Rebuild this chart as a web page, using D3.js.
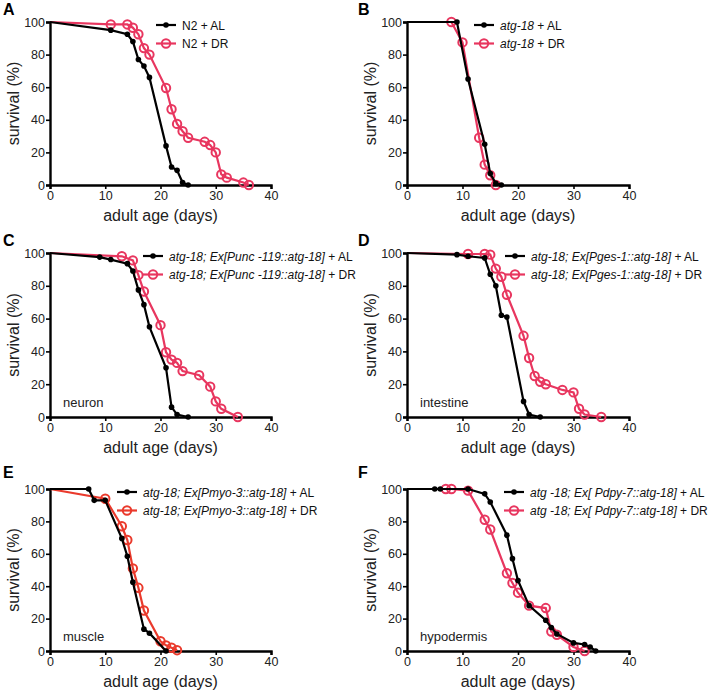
<!DOCTYPE html>
<html><head><meta charset="utf-8">
<script src="https://cdn.jsdelivr.net/npm/d3@7"></script>
<style>
body{margin:0;background:#fff;}
svg{display:block;font-family:Arial,"Liberation Sans",Helvetica,sans-serif;}
</style></head>
<body><svg id="chart" width="709" height="694"></svg>
<script>
// ---------- data ----------
const xTicks = [0, 10, 20, 30, 40];
const yTicks = [0, 20, 40, 60, 80, 100];

const A_AL_days = [0, 11, 14, 15, 16, 17, 18, 21, 22, 23, 24, 25];
const A_AL_surv = [100, 95, 92.5, 88, 77, 73, 66, 24, 11, 9, 1.5, 0];
const A_DR_days = [0, 11, 14, 15, 16, 17, 18, 21, 22, 23, 24, 25, 28, 29, 30, 31, 32, 35, 36];
const A_DR_surv = [100, 98.5, 98.5, 96.5, 92.5, 84, 80, 59.5, 46.5, 37.5, 33, 29, 26.5, 24.5, 20, 6.5, 4.5, 1.5, 0];

const B_AL_days = [0, 9, 11, 14, 15, 16, 17];
const B_AL_surv = [100, 100, 65, 25, 7, 1, 0];
const B_DR_days = [0, 8, 10, 13, 14, 15, 16];
const B_DR_surv = [100, 100, 87.5, 29, 12.5, 6, 0];

const C_AL_days = [0, 9, 11, 14, 15, 16, 17, 18, 21, 22, 23, 25];
const C_AL_surv = [100, 97.5, 96, 93.5, 89, 77.5, 68.5, 55, 30, 6, 1.5, 0];
const C_DR_days = [0, 13, 15, 16, 17, 20, 21, 22, 23, 24, 27, 29, 30, 31, 34];
const C_DR_surv = [100, 98, 95.5, 86.5, 76.5, 56, 39.5, 35, 33, 28, 25.5, 18.5, 9.5, 5, 0];

const D_AL_days = [0, 9, 11, 14, 15, 16, 17, 18, 21, 22, 24];
const D_AL_surv = [100, 99, 98, 97, 87, 80, 62, 61, 9.5, 1.5, 0];
const D_DR_days = [0, 11, 14, 15, 16, 17, 18, 21, 22, 23, 24, 25, 28, 30, 31, 32, 35];
const D_DR_surv = [100, 99.4, 99.4, 99, 90.5, 85.5, 74.5, 49.5, 36, 25, 21.5, 20, 16.5, 15, 5, 1.5, 0];

const E_AL_days = [0, 7, 8, 10, 13, 14, 15, 17, 18, 21];
const E_AL_surv = [100, 100, 93, 93, 69.5, 58.5, 42.5, 13.5, 11, 0];
const E_DR_days = [0, 10, 13, 14, 15, 16, 17, 20, 21, 22, 23];
const E_DR_surv = [100, 94, 77, 68.5, 51, 39, 25, 6, 3.5, 2, 0.5];

const F_AL_days = [0, 5, 6, 11, 14, 15, 18, 19, 20, 22, 25, 26, 27, 30, 32, 33, 34];
const F_AL_surv = [100, 100, 100, 100, 97, 92, 71.5, 57, 43.5, 28, 19, 14.5, 10.5, 5, 4, 2.5, 0];
const F_DR_days = [0, 7, 8, 11, 14, 15, 18, 19, 20, 22, 25, 26, 27, 30, 32];
const F_DR_surv = [100, 100, 100, 99, 81, 75, 48, 42, 36, 28, 26.5, 12, 10, 2.5, 0];

const panelLetters = ["A", "B", "C", "D", "E", "F"];
const tissueLabels = ["", "", "neuron", "intestine", "muscle", "hypodermis"];
// legend text parts: [italic part, upright part]
const legendAL = [["", "N2 + AL"], ["atg-18", " + AL"], ["atg-18; Ex[Punc -119::atg-18]", " + AL"],
  ["atg-18; Ex[Pges-1::atg-18]", " + AL"], ["atg-18; Ex[Pmyo-3::atg-18]", " + AL"], ["atg -18; Ex[ Pdpy-7::atg-18]", " + AL"]];
const legendDR = [["", "N2 + DR"], ["atg-18", " + DR"], ["atg-18; Ex[Punc -119::atg-18]", " + DR"],
  ["atg-18; Ex[Pges-1::atg-18]", " + DR"], ["atg-18; Ex[Pmyo-3::atg-18]", " + DR"], ["atg -18; Ex[ Pdpy-7::atg-18]", " + DR"]];

const seriesAL = [[A_AL_days, A_AL_surv], [B_AL_days, B_AL_surv], [C_AL_days, C_AL_surv], [D_AL_days, D_AL_surv], [E_AL_days, E_AL_surv], [F_AL_days, F_AL_surv]];
const seriesDR = [[A_DR_days, A_DR_surv], [B_DR_days, B_DR_surv], [C_DR_days, C_DR_surv], [D_DR_days, D_DR_surv], [E_DR_days, E_DR_surv], [F_DR_days, F_DR_surv]];

// ---------- layout ----------
const colX = [[50, 271], [407, 629]];
const rowY = [[22, 185], [253, 417], [489, 651]];
const pink = "#e8365f";
const orange = "#ea3a2c";
const drColors = [pink, pink, pink, pink, orange, pink];
const legendX = [156, 474, 143, 505, 117, 504];

const svg = d3.select("#chart");

panelLetters.forEach((letter, i) => {
  const col = i % 2, row = Math.floor(i / 2);
  const [x0, x1] = colX[col];
  const [y0, y1] = rowY[row];
  const x = d3.scaleLinear().domain([0, 40]).range([x0, x1]);
  const y = d3.scaleLinear().domain([0, 100]).range([y1, y0]);
  const g = svg.append("g");

  // axes
  const xa = g.append("g").attr("transform", `translate(0,${y1})`)
    .call(d3.axisBottom(x).tickValues(xTicks).tickSize(4).tickPadding(2));
  const ya = g.append("g").attr("transform", `translate(${x0},0)`)
    .call(d3.axisLeft(y).tickValues(yTicks).tickSize(4).tickPadding(1));
  [xa, ya].forEach(a => {
    a.select(".domain").attr("stroke", "#000").attr("stroke-width", 2.4);
    a.selectAll(".tick line").attr("stroke", "#000").attr("stroke-width", 1.6);
    a.selectAll(".tick text").attr("fill", "#222").style("font-size", "12.5px").style("font-family", "Arial, 'Liberation Sans', sans-serif");
  });

  // axis titles
  g.append("text").attr("x", (x0 + x1) / 2).attr("y", y1 + 36)
    .attr("text-anchor", "middle").style("font-size", "16px").attr("fill", "#222").text("adult age (days)");
  g.append("text").attr("transform", `translate(${x0 - 31},${(y0 + y1) / 2}) rotate(-90)`)
    .attr("text-anchor", "middle").style("font-size", "16px").attr("fill", "#222").text("survival (%)");

  // panel letter
  g.append("text").attr("x", col === 0 ? 3 : 358).attr("y", y0 - 7 + (row === 2 ? -4 : 0))
    .style("font-size", "16px").style("font-weight", "bold").text(letter);

  // tissue label
  if (tissueLabels[i]) {
    g.append("text").attr("x", x0 + 13).attr("y", y1 - 10)
      .style("font-size", "13px").attr("fill", "#222").text(tissueLabels[i]);
  }

  const line = d3.line().x(d => x(d[0])).y(d => y(d[1]));
  const al = seriesAL[i][0].map((d, k) => [d, seriesAL[i][1][k]]);
  const dr = seriesDR[i][0].map((d, k) => [d, seriesDR[i][1][k]]);
  const c = drColors[i];

  // DR series
  g.append("path").datum(dr).attr("d", line).attr("fill", "none").attr("stroke", c).attr("stroke-width", 2.2);
  g.selectAll(".dr").data(dr.slice(1)).join("circle")
    .attr("cx", d => x(d[0])).attr("cy", d => y(d[1])).attr("r", 4.2)
    .attr("fill", "none").attr("stroke", c).attr("stroke-width", 2);

  // AL series
  g.append("path").datum(al).attr("d", line).attr("fill", "none").attr("stroke", "#000").attr("stroke-width", 2.2);
  g.selectAll(".al").data(al.slice(1)).join("circle")
    .attr("cx", d => x(d[0])).attr("cy", d => y(d[1])).attr("r", 2.8).attr("fill", "#000");

  // legend
  const lx = legendX[i];
  const rows = [[legendAL[i], "#000", false], [legendDR[i], c, true]];
  rows.forEach((r, k) => {
    const ly = y0 + 3 + k * 18.5;
    g.append("line").attr("x1", lx).attr("x2", lx + 20).attr("y1", ly).attr("y2", ly)
      .attr("stroke", r[1]).attr("stroke-width", 2.2);
    if (r[2]) g.append("circle").attr("cx", lx + 10).attr("cy", ly).attr("r", 4.2)
      .attr("fill", "none").attr("stroke", r[1]).attr("stroke-width", 2);
    else g.append("circle").attr("cx", lx + 10).attr("cy", ly).attr("r", 2.8).attr("fill", "#000");
    const t = g.append("text").attr("x", lx + 26).attr("y", ly + 4.5).style("font-size", "12px").attr("fill", "#111");
    if (r[0][0]) t.append("tspan").style("font-style", "italic").text(r[0][0]);
    t.append("tspan").text(r[0][1]);
  });
});
</script>
</body></html>
